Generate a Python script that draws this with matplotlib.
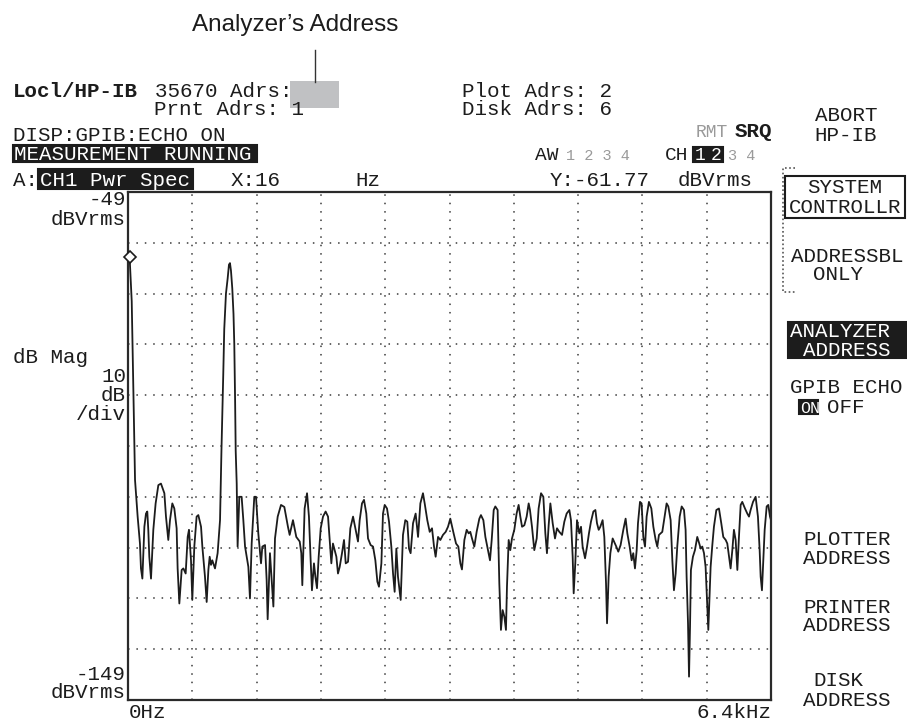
import matplotlib.pyplot as plt
from matplotlib.patches import Rectangle

# Spettro CH1 (Hz, dBVrms)
freq_hz = [
    0, 16, 37, 53, 70, 96, 119, 129, 143, 163, 179, 192, 202, 212, 229, 252,
    275, 302, 328, 362, 378, 401, 418, 441, 461, 484, 494, 511, 534, 551, 574,
    594, 607, 627, 640, 660, 683, 700, 727, 740, 766, 783, 800, 813, 826, 839,
    866, 892, 916, 930, 940, 948, 958, 975, 992, 1005, 1015, 1025, 1038, 1050,
    1058, 1066, 1072, 1082, 1091, 1108, 1131, 1148, 1165, 1198, 1214, 1231,
    1257, 1274, 1297, 1324, 1337, 1364, 1380, 1390, 1413, 1447, 1463, 1490,
    1523, 1556, 1592, 1609, 1642, 1675, 1709, 1725, 1735, 1758, 1782, 1801,
    1818, 1831, 1851, 1865, 1881, 1898, 1918, 1941, 1967, 1991, 2007, 2024,
    2040, 2057, 2074, 2090, 2107, 2130, 2150, 2167, 2190, 2213, 2240, 2266,
    2289, 2306, 2329, 2349, 2372, 2389, 2415, 2439, 2462, 2482, 2498, 2522,
    2538, 2555, 2578, 2598, 2621, 2638, 2654, 2671, 2687, 2714, 2737, 2760,
    2780, 2797, 2813, 2837, 2863, 2887, 2910, 2936, 2953, 2979, 3003, 3026,
    3046, 3062, 3086, 3109, 3135, 3162, 3185, 3208, 3241, 3265, 3288, 3308,
    3324, 3348, 3371, 3391, 3407, 3424, 3447, 3470, 3497, 3513, 3537, 3557,
    3580, 3603, 3620, 3640, 3656, 3679, 3696, 3712, 3729, 3746, 3762, 3772,
    3789, 3805, 3822, 3845, 3868, 3888, 3905, 3922, 3945, 3968, 3988, 4001,
    4021, 4044, 4068, 4087, 4111, 4134, 4154, 4170, 4187, 4204, 4227, 4250,
    4270, 4293, 4320, 4343, 4366, 4393, 4409, 4426, 4436, 4452, 4469, 4492,
    4509, 4525, 4549, 4569, 4588, 4608, 4632, 4652, 4668, 4685, 4701, 4724,
    4741, 4758, 4768, 4784, 4801, 4824, 4860, 4880, 4903, 4930, 4953, 4970,
    4993, 5013, 5029, 5046, 5063, 5076, 5096, 5112, 5129, 5146, 5162, 5185,
    5209, 5229, 5252, 5268, 5285, 5302, 5318, 5341, 5361, 5378, 5401, 5418,
    5434, 5451, 5467, 5491, 5511, 5534, 5550, 5560, 5574, 5584, 5594, 5603,
    5623, 5643, 5666, 5686, 5700, 5716, 5733, 5749, 5766, 5776, 5786, 5799,
    5816, 5832, 5856, 5882, 5905, 5925, 5949, 5965, 5982, 5998, 6015, 6031,
    6048, 6065, 6081, 6098, 6114, 6141, 6164, 6181, 6197, 6221, 6247, 6270,
    6287, 6297, 6310, 6323, 6337, 6357, 6373, 6390, 6400,
]
level_db = [
    -61.8, -61.8, -70.5, -88, -105.7, -112.9, -118.2, -123.1, -125.1, -114.9,
    -112.3, -111.9, -115.5, -120.8, -125.1, -115.5, -110.3, -106.7, -106.4,
    -108.3, -112.9, -117.5, -113.6, -110.3, -111.3, -115.2, -123.1, -130.0,
    -123.4, -123.1, -124.1, -116.9, -115.5, -121.5, -129.3, -118.8, -112.9,
    -112.6, -114.9, -118.8, -124.7, -129.7, -123.4, -120.8, -122.4, -121.5,
    -123.1, -120.1, -113.6, -100, -92, -85, -76, -69, -66, -63.3, -63, -64.5,
    -68, -73, -79, -90, -100, -106.4, -118.8, -109, -109, -113.6, -118.8,
    -122.8, -129, -118.2, -109, -109, -116.2, -122.1, -118.8, -118.5, -125.4,
    -133.1, -120.1, -130.6, -117.2, -112.9, -110.6, -111, -114.9, -116.5,
    -113.6, -116.9, -117.8, -120.1, -126.4, -111.3, -108.3, -112.9, -121.5,
    -127.4, -122.1, -124.7, -127, -120.8, -115.2, -112.9, -111.9, -112.9,
    -117.5, -122.1, -118.2, -119.5, -120.8, -124.1, -122.8, -120.1, -117.5,
    -122.1, -121.8, -115.2, -112.9, -115.5, -117.8, -113.6, -110.3, -109.6,
    -112.3, -117.2, -118.5, -118.8, -121.5, -125.7, -126.7, -122.1, -112.3,
    -110.6, -111.3, -113.9, -118.8, -124.1, -127.7, -119.2, -124.7, -129.3,
    -116.5, -113.6, -113.9, -119.2, -120.1, -114.2, -112.3, -116.9, -110.3,
    -108.3, -110.3, -113.6, -115.9, -115.2, -118.8, -120.8, -116.9, -117.5,
    -116.5, -115.9, -114.9, -113.3, -116.2, -118.2, -118.8, -122.1, -123.3,
    -117.5, -115.5, -116.2, -115.9, -117.2, -118.8, -115.9, -113.3, -112.6,
    -113.6, -116.9, -119.2, -121.5, -117.5, -111.6, -110.9, -111.6, -126.1,
    -135.2, -131.3, -132.6, -135.2, -126.7, -117.5, -119.5, -117.2, -115.5,
    -112.3, -110.6, -112.9, -114.9, -114.6, -112.9, -110.3, -111.6, -114.9,
    -119.5, -117.2, -111.3, -108.3, -109, -116.2, -120.1, -114.6, -110.3,
    -114.2, -117.2, -115.2, -115.9, -116.5, -113.9, -112.3, -111.6, -113.6,
    -120.8, -128, -122.1, -113.6, -116.2, -114.9, -118.8, -121.1, -118.8,
    -116.2, -113.9, -111.9, -111.6, -114.2, -115.5, -114.9, -113.6, -116.9,
    -126.1, -133.9, -124.7, -120.1, -117.2, -118.8, -119.8, -118.5, -115.5,
    -113.3, -116.2, -118.8, -121.5, -120.1, -123.1, -119.5, -114.2, -110,
    -110.3, -116.9, -118.8, -112.9, -110, -111.3, -114.9, -117.5, -118.8,
    -116.5, -116.2, -115.9, -112.9, -110.3, -110.9, -113.6, -121.5, -127.4,
    -124.1, -118.8, -112.9, -110.9, -111.6, -115.5, -124.7, -133.9, -144.4,
    -134.6, -123.4, -120.8, -119.5, -116.9, -118.2, -119.2, -118.8, -120.1,
    -122.8, -130.6, -135.2, -130, -122.8, -118.5, -114.9, -111.6, -111.3,
    -114.2, -116.9, -117.5, -118.2, -120.8, -123.1, -119.5, -115.5, -117.5,
    -123.4, -116.9, -110.6, -110, -111.3, -112.3, -112.9, -111.6, -110, -109,
    -112.9, -119.5, -124.7, -127.4, -121.5, -115.5, -110.9, -110.6, -112.9,
    -113.6,
]

marker_hz = 16
marker_db = -61.77
y_top, y_bottom = -49, -149
f_span = 6400

ink = "#1c1c1c"
mono = "Liberation Mono"

fig = plt.figure(figsize=(9.07, 7.23), dpi=100)

# Area del grafico
ax = fig.add_axes([128 / 907, 23 / 723, 643 / 907, 508 / 723])
ax.set_xlim(0, f_span)
ax.set_ylim(y_bottom, y_top)
for k in range(1, 10):
    ax.axvline(k * f_span / 10, color="#3a3a3a", lw=1.1, ls=(0, (1, 4.5)))
    ax.axhline(y_top - k * 10, color="#3a3a3a", lw=1.1, ls=(0, (1, 4.5)))
ax.plot(freq_hz, level_db, color=ink, lw=1.3)
ax.plot([marker_hz], [marker_db], marker="D", ms=6, mfc="white", mec=ink,
        mew=1.2, clip_on=False, zorder=5)
ax.set_xticks([])
ax.set_yticks([])
for s in ax.spines.values():
    s.set_color("#2a2a2a")
    s.set_linewidth(1.6)

# Overlay in pixel per i testi dello schermo
ov = fig.add_axes([0, 0, 1, 1], zorder=-1)
ov.set_xlim(0, 907)
ov.set_ylim(723, 0)
ov.axis("off")


def t(x, y, s, ha="left", size=15, color=ink, **kw):
    ov.text(x, y, s, ha=ha, va="baseline", family=mono, fontsize=size,
            color=color, **kw)


def box(x0, y0, x1, y1, fill=True):
    ov.add_patch(Rectangle((x0, y0), x1 - x0, y1 - y0,
                           facecolor=ink if fill else "none",
                           edgecolor=ink, lw=1.5))


# Didascalia
ov.text(192, 31, "Analyzer\u2019s Address", family="Liberation Sans",
        fontsize=17.5, color=ink, va="baseline")
ov.plot([315, 315], [50, 82], color="#333333", lw=1)
ov.add_patch(Rectangle((290, 81), 49, 27, facecolor="#c0c1c3", edgecolor="none"))

# Riga di stato
t(13, 97, "Locl/HP-IB", weight="bold")
t(155, 97, "35670 Adrs:")
t(154, 115, "Prnt Adrs: 1")
t(462, 97, "Plot Adrs: 2")
t(462, 115, "Disk Adrs: 6")
t(13, 141, "DISP:GPIB:ECHO ON")
t(728, 137, "RMT", ha="right", color="#9a9a9a", size=13)
t(772, 137, "SRQ", ha="right", weight="bold")
box(13, 145, 257, 162)
t(14, 160, "MEASUREMENT RUNNING", color="white")
t(535, 160, "AW", size=14)
t(566, 160, "1 2 3 4", color="#9a9a9a", size=11)
t(665, 160, "CH", size=14)
box(693, 147, 707, 162)
t(694.5, 160, "1", color="white", size=13)
box(709, 147, 723, 162)
t(710.5, 160, "2", color="white", size=13)
t(728, 160, "3 4", color="#9a9a9a", size=11)
t(13, 186, "A:")
box(38, 169, 193, 189)
t(40, 186, "CH1 Pwr Spec", color="white")
t(231, 186, "X:16")
t(355, 186, "Hz")
t(550, 186, "Y:-61.77")
t(678, 186, "dBVrms")

# Scala
t(126, 205, "-49", ha="right")
t(126, 225, "dBVrms", ha="right")
t(13, 363, "dB Mag")
t(126, 382, "10", ha="right")
t(126, 401, "dB", ha="right")
t(126, 420, "/div", ha="right")
t(126, 680, "-149", ha="right")
t(126, 698, "dBVrms", ha="right")
t(129, 718, "0Hz")
t(772, 718, "6.4kHz", ha="right")

# Softkey
t(846, 121, "ABORT", ha="center")
t(846, 141, "HP-IB", ha="center")
ov.plot([795, 783, 783, 795], [168, 168, 292, 292], color="#555555",
        lw=1.2, ls=(0, (1, 1.5)))
box(785, 176, 905, 218, fill=False)
t(845, 193, "SYSTEM", ha="center")
t(845, 213, "CONTROLLR", ha="center")
t(847, 262, "ADDRESSBL", ha="center")
t(838, 280, "ONLY", ha="center")
box(788, 322, 907, 358)
t(790, 337, "ANALYZER", color="white")
t(803, 356, "ADDRESS", color="white")
t(790, 393, "GPIB ECHO")
box(799, 400, 818, 414)
t(800, 413, "ON", color="white", size=12)
t(827, 413, "OFF")
t(803, 545, "PLOTTER")
t(803, 564, "ADDRESS")
t(803, 613, "PRINTER")
t(803, 631, "ADDRESS")
t(813, 686, "DISK")
t(803, 706, "ADDRESS")

fig.savefig("out.png", dpi=100, facecolor="white")
